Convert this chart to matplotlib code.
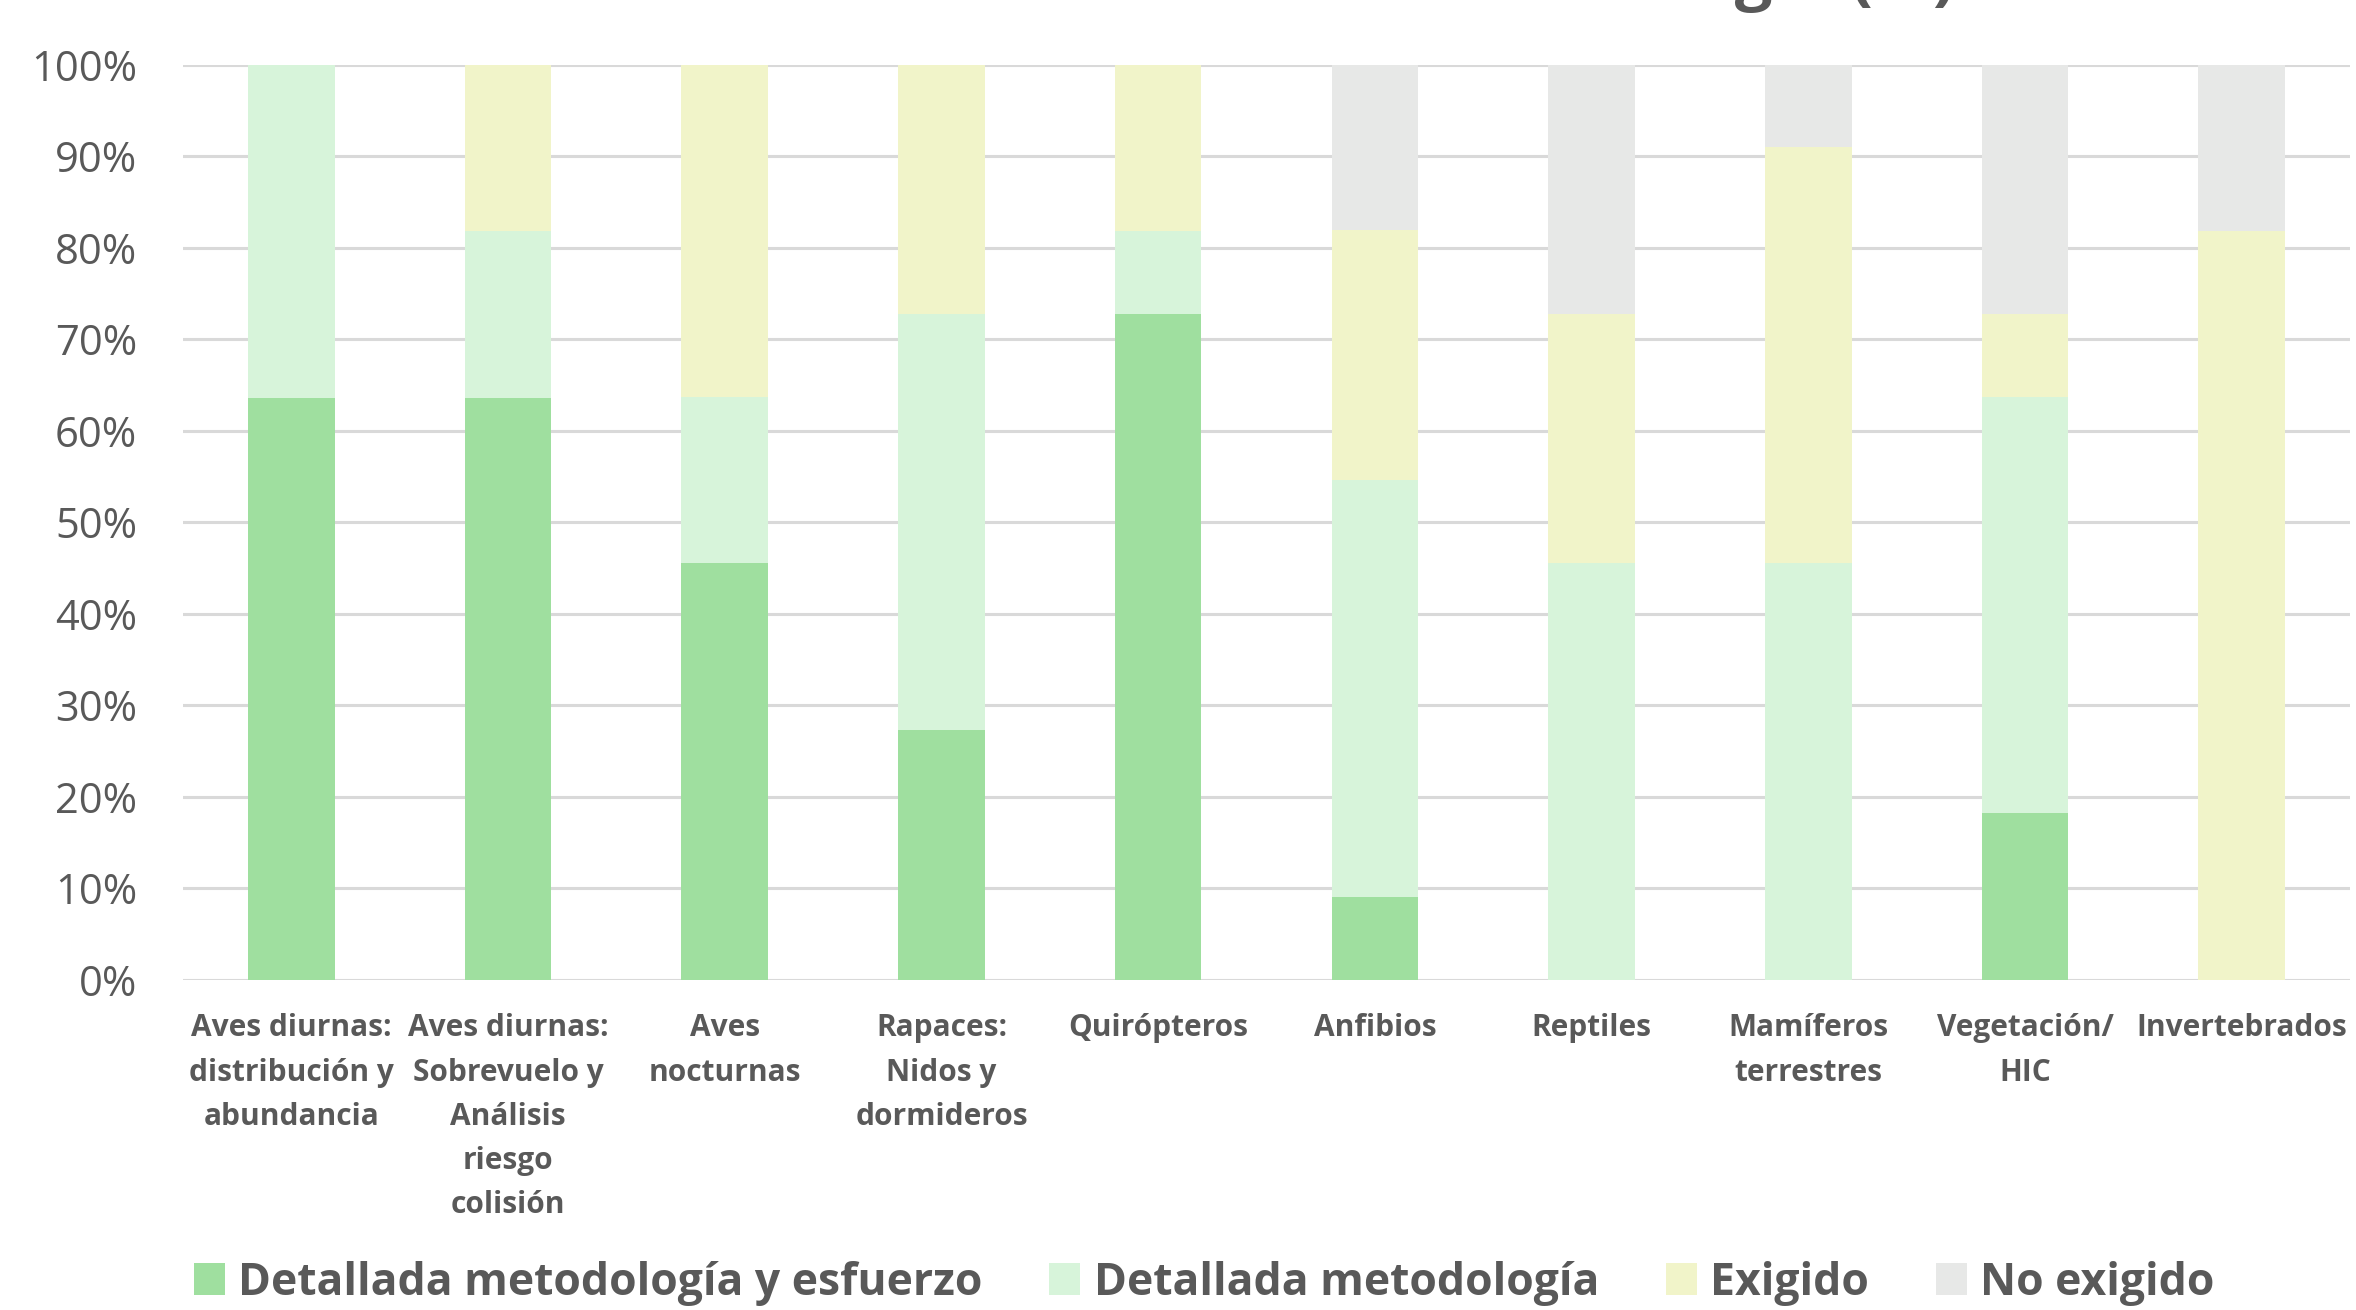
import numpy as np
import matplotlib
matplotlib.use("Agg")
import matplotlib.pyplot as plt
from matplotlib.ticker import PercentFormatter

# datos (porcentaje de estudios, n = 11)
categorias = [
    "Aves diurnas:\ndistribución y\nabundancia",
    "Aves diurnas:\nSobrevuelo y\nAnálisis\nriesgo\ncolisión",
    "Aves\nnocturnas",
    "Rapaces:\nNidos y\ndormideros",
    "Quirópteros",
    "Anfibios",
    "Reptiles",
    "Mamíferos\nterrestres",
    "Vegetación/\nHIC",
    "Invertebrados",
]
metodologia_esfuerzo = [63.6, 63.6, 45.5, 27.3, 72.7, 9.1, 0.0, 0.0, 18.2, 0.0]
metodologia = [36.4, 18.2, 18.2, 45.5, 9.1, 45.5, 45.5, 45.5, 45.5, 0.0]
exigido = [0.0, 18.2, 36.4, 27.3, 18.2, 27.3, 27.3, 45.5, 9.1, 81.8]
no_exigido = [0.0, 0.0, 0.0, 0.0, 0.0, 18.2, 27.3, 9.1, 27.3, 18.2]

series = [
    ("Detallada metodología y esfuerzo", metodologia_esfuerzo, "#9fdf9f"),
    ("Detallada metodología", metodologia, "#d7f4da"),
    ("Exigido", exigido, "#f1f4c9"),
    ("No exigido", no_exigido, "#e7e8e7"),
]

gris = "#595959"
plt.rcParams["font.family"] = ["Open Sans", "DejaVu Sans"]

fig = plt.figure(figsize=(23.56, 13.1), dpi=100)
ax = fig.add_axes([183 / 2356, 1 - 980 / 1310, (2350 - 183) / 2356, (980 - 64.5) / 1310])

x = np.arange(len(categorias))
bottom = np.zeros(len(categorias))
for nombre, vals, color in series:
    vals = np.array(vals)
    ax.bar(x, vals, width=0.4, bottom=bottom, color=color, label=nombre, zorder=3)
    bottom += vals

ax.set_xlim(-0.5, len(categorias) - 0.5)
ax.set_ylim(0, 100)
ax.set_yticks(np.arange(0, 101, 10))
ax.yaxis.set_major_formatter(PercentFormatter(decimals=0))
ax.grid(axis="y", color="#d9d9d9", linewidth=2.2, zorder=0)
for s in ["top", "right", "left", "bottom"]:
    ax.spines[s].set_visible(False)
ax.tick_params(axis="y", length=0, pad=33, labelsize=30, labelcolor=gris)
ax.tick_params(axis="x", length=0, pad=24)
ax.set_xticks(x)
ax.set_xticklabels(categorias, fontsize=21.5, fontweight="bold", color=gris,
                   linespacing=1.62, va="top")

# título (cortado en el borde superior, como en el original)
fig.text(1955 / 2356, 1 + 3 / 1310, "Nivel de detalle de la metodología (%)",
         ha="right", va="baseline", fontsize=48, fontweight="bold", color=gris)

leg = fig.legend(loc="center", bbox_to_anchor=(1204 / 2356, 1 - 1283 / 1310), ncol=4,
                 frameon=False, handlelength=0.7, handleheight=0.7,
                 handletextpad=0.3, columnspacing=1.5,
                 prop={"size": 32, "weight": "bold"})
for t in leg.get_texts():
    t.set_color(gris)

fig.savefig("out.png", dpi=100)
